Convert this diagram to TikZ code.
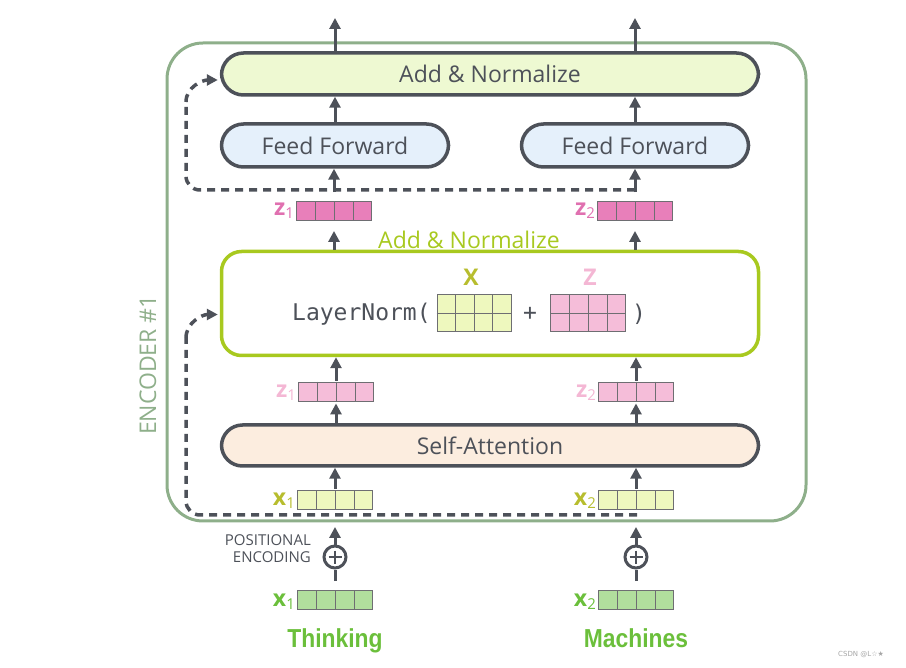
\documentclass[tikz,border=0pt]{standalone}
\usepackage{fontspec}
\setmainfont{Open Sans}
\setmonofont{DejaVu Sans Mono}
\newfontfamily\condbold[FakeStretch=0.88]{Liberation Sans}
\newfontfamily\wmfont{DejaVu Sans}
\usetikzlibrary{arrows.meta,calc}
\definecolor{dk}{HTML}{4D5159}
\definecolor{encg}{HTML}{8EAF8A}
\definecolor{lnbord}{HTML}{A8C91F}
\definecolor{anfill}{HTML}{EEF9D2}
\definecolor{fffill}{HTML}{E5F0FB}
\definecolor{safill}{HTML}{FCEDDF}
\definecolor{zdark}{HTML}{E87FBA}
\definecolor{zdarklab}{HTML}{E070B0}
\definecolor{zlight}{HTML}{F5BDD9}
\definecolor{zlightlab}{HTML}{F4B7D4}
\definecolor{xyel}{HTML}{EEF8BE}
\definecolor{xyellab}{HTML}{B7BD2E}
\definecolor{xgrn}{HTML}{B1DE9D}
\definecolor{xgrnlab}{HTML}{6BBF3B}
\definecolor{cellc}{HTML}{6E6E72}
\newcommand\cellgrid[3]{%
  \foreach \i in {1,...,#2}{\pgfmathsetmacro\ii{\i/(#2+1)}%
    \draw[cellline] ($(#1.north west)!\ii!(#1.north east)$) -- ($(#1.south west)!\ii!(#1.south east)$);}%
  \ifnum#3>1 \draw[cellline] (#1.west) -- (#1.east);\fi}
\newcommand\vsub[2]{#1\raisebox{-3pt}{\fontsize{15}{15}\selectfont\mdseries #2}}
\begin{document}
\begin{tikzpicture}[x=1pt,y=-1pt,
  box/.style={draw=dk, line width=3.5pt, inner sep=0pt, text=dk, font=\fontsize{23}{27}\selectfont},
  vec/.style={draw=cellc, line width=0.9pt, minimum width=75pt, minimum height=19pt, inner sep=0pt},
  cellline/.style={draw=cellc, line width=0.9pt},
  arr/.style={draw=dk, line width=3pt, -{Triangle[length=11pt,width=11pt]}},
  dsh/.style={draw=dk, line width=3.5pt, dash pattern=on 8pt off 6pt},
  lab/.style={font=\fontsize{23}{23}\selectfont\bfseries, inner sep=0pt, anchor=east},
  mono/.style={text=dk, font=\ttfamily\fontsize{23}{23}\selectfont, inner sep=0pt},
  word/.style={text=xgrnlab, font=\condbold\bfseries\fontsize{26}{26}\selectfont, inner sep=0pt, anchor=base},
]
\useasboundingbox (0,0) rectangle (906,668);

% encoder frame
\node[draw=encg, line width=3pt, rounded corners=36pt, minimum width=639pt, minimum height=478pt, inner sep=0pt] (enc) at (486.5,282) {};
\node[rotate=90, text=encg, font=\fontsize{23}{23}\selectfont] (enclab) at (148,365) {ENCODER \#1};

% boxes
\node[box, fill=anfill, rounded corners=22pt, minimum width=537pt, minimum height=42pt] (an2) at (490,74) {Add \& Normalize};
\node[box, fill=fffill, rounded corners=22pt, minimum width=227pt, minimum height=43pt] (ff1) at (335,145.5) {Feed Forward};
\node[box, fill=fffill, rounded corners=22pt, minimum width=227pt, minimum height=43pt] (ff2) at (635,145.5) {Feed Forward};
\node[box, draw=lnbord, fill=white, rounded corners=20pt, minimum width=537pt, minimum height=104pt] (ln) at (490,303.5) {};
\node[box, fill=safill, rounded corners=21pt, minimum width=537pt, minimum height=41pt] (sa) at (490,445.5) {Self-Attention};

\node[text=lnbord, font=\fontsize{23}{23}\selectfont, inner sep=0pt] (anlab) at (469,240) {Add \& Normalize};

% LayerNorm content
\node[mono, anchor=west] (lnt) at (292,314) {LayerNorm(};
\node[vec, fill=xyel, minimum width=74pt, minimum height=37pt] (X) at (474,313) {};
\cellgrid{X}{3}{2}
\node[vec, fill=zlight, minimum width=75pt, minimum height=37pt] (Z) at (588,313) {};
\cellgrid{Z}{3}{2}
\node[mono] (plus) at (530,314) {+};
\node[mono] (rp) at (639,314) {)};
\node[text=xyellab, font=\fontsize{23}{23}\selectfont\bfseries, inner sep=0pt] (Xl) at (471,277) {X};
\node[text=zlightlab, font=\fontsize{23}{23}\selectfont\bfseries, inner sep=0pt] (Zl) at (590,277) {Z};

% vectors
\node[vec, fill=zdark] (z1t) at (334,211) {}; \cellgrid{z1t}{3}{1}
\node[vec, fill=zdark] (z2t) at (635,211) {}; \cellgrid{z2t}{3}{1}
\node[vec, fill=zlight] (z1) at (336,391.5) {}; \cellgrid{z1}{3}{1}
\node[vec, fill=zlight] (z2) at (636,391.5) {}; \cellgrid{z2}{3}{1}
\node[vec, fill=xyel] (x1) at (335,500) {}; \cellgrid{x1}{3}{1}
\node[vec, fill=xyel] (x2) at (636,500) {}; \cellgrid{x2}{3}{1}
\node[vec, fill=xgrn] (e1) at (335,600) {}; \cellgrid{e1}{3}{1}
\node[vec, fill=xgrn] (e2) at (636,600) {}; \cellgrid{e2}{3}{1}

% vector labels
\node[lab, text=zdarklab] (z1tl) at ($(z1t.west)+(-2,0)$) {\vsub{z}{1}};
\node[lab, text=zdarklab] (z2tl) at ($(z2t.west)+(-2,0)$) {\vsub{z}{2}};
\node[lab, text=zlightlab] (z1l) at ($(z1.west)+(-2,1)$) {\vsub{z}{1}};
\node[lab, text=zlightlab] (z2l) at ($(z2.west)+(-2,1)$) {\vsub{z}{2}};
\node[lab, text=xyellab] (x1l) at ($(x1.west)+(-2,1)$) {\vsub{x}{1}};
\node[lab, text=xyellab] (x2l) at ($(x2.west)+(-2,1)$) {\vsub{x}{2}};
\node[lab, text=xgrnlab] (e1l) at ($(e1.west)+(-2,2)$) {\vsub{x}{1}};
\node[lab, text=xgrnlab] (e2l) at ($(e2.west)+(-2,2)$) {\vsub{x}{2}};

% positional encoding
\node[draw=dk, line width=3pt, circle, minimum size=22pt, inner sep=0pt] (pe1) at (335,557) {};
\node[draw=dk, line width=3pt, circle, minimum size=22pt, inner sep=0pt] (pe2) at (636,557) {};
\foreach \p in {pe1,pe2}{
  \draw[dk, line width=2.6pt] ($(\p.center)+(-6.5,0)$) -- ($(\p.center)+(6.5,0)$);
  \draw[dk, line width=2.6pt] ($(\p.center)+(0,-6.5)$) -- ($(\p.center)+(0,6.5)$);
}
\node[text=dk, font=\fontsize{15}{17}\selectfont, align=right, anchor=east, inner sep=0pt] (petxt) at (311,549) {POSITIONAL\\ENCODING};

% words
\node[word] (w1) at (335,647) {Thinking};
\node[word] (w2) at (636,647) {Machines};

% watermark
\node[text=black!35, font=\wmfont\fontsize{7}{7}\selectfont, inner sep=0pt] (wm) at (861,655) {CSDN @L☆★};

% arrows
\coordinate (o1) at (335,18);
\coordinate (o2) at (635,18);
\draw[arr] (an2.north -| o1) -- (o1);
\draw[arr] (an2.north -| o2) -- (o2);
\draw[arr] (ff1.north) -- (ff1.north |- an2.south);
\draw[arr] (ff2.north) -- (ff2.north |- an2.south);
\draw[arr, shorten <=9pt] (z1t.north) -- (z1t.north |- ff1.south);
\draw[arr, shorten <=9pt] (z2t.north) -- (z2t.north |- ff2.south);
\draw[arr, shorten >=10pt] (ln.north -| z1t) -- (z1t.south);
\draw[arr, shorten >=10pt] (ln.north -| z2t) -- (z2t.south);
\draw[arr, shorten <=1pt] (z1.north) -- (z1.north |- ln.south);
\draw[arr, shorten <=1pt] (z2.north) -- (z2.north |- ln.south);
\draw[arr, shorten >=2pt] (sa.north -| z1) -- (z1.south);
\draw[arr, shorten >=2pt] (sa.north -| z2) -- (z2.south);
\draw[arr, shorten <=1pt] (x1.north) -- (x1.north |- sa.south);
\draw[arr, shorten <=1pt] (x2.north) -- (x2.north |- sa.south);
\draw[arr, shorten >=17pt] (pe1.north) -- (x1.south);
\draw[arr, shorten >=17pt] (pe2.north) -- (x2.south);
\draw[dk, line width=3pt, shorten <=9pt] (e1.north) -- (pe1.south);
\draw[dk, line width=3pt, shorten <=9pt] (e2.north) -- (pe2.south);

% residual dashed connections
\coordinate (r1) at (635,190);
\coordinate (r2) at (637,515);
\draw[dsh, rounded corners=14pt] (r1) -- (186,190) -- (186,102);
\draw[dsh, -{Triangle[length=11pt,width=11pt]}] (186,102) to[out=90,in=180] ($(an2.west)+(-2,6)$);
\draw[dsh, rounded corners=14pt] (r2) -- (186,515) -- (186,338);
\draw[dsh, -{Triangle[length=11pt,width=11pt]}] (186,338) to[out=90,in=180] ($(ln.west)+(-2,11)$);
\end{tikzpicture}
\end{document}
